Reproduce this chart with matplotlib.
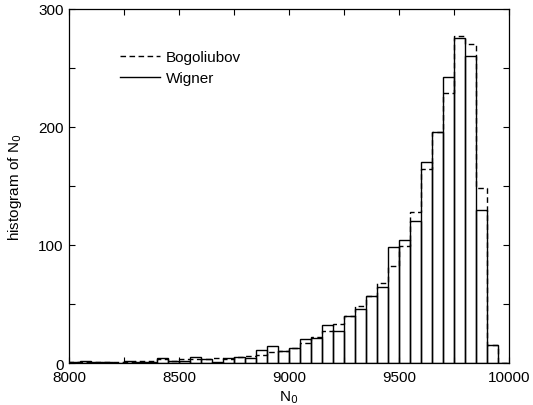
import matplotlib
matplotlib.use("Agg")
import matplotlib.pyplot as plt
import numpy as np
from matplotlib.ticker import MultipleLocator

plt.rcParams['font.family'] = ['Liberation Sans', 'DejaVu Sans']

bin_width = 50
bin_left = [8000 + 50 * i for i in range(40)]

wigner = [1, 2, 1, 1, 0, 2, 1, 1, 4, 2, 2, 5, 3, 1, 4, 5, 4, 11, 14, 10,
          13, 20, 21, 32, 27, 40, 46, 57, 64, 98, 104, 120, 170, 196, 242, 275, 260, 130, 15, 0]
bogoliubov = [1, 1, 1, 1, 1, 1, 2, 2, 3, 2, 3, 3, 3, 4, 3, 5, 6, 7, 9, 10,
              13, 17, 22, 27, 33, 40, 48, 57, 68, 82, 99, 128, 164, 196, 229, 277, 270, 148, 15, 0]

xticks = [8000, 8500, 9000, 9500, 10000]
yticks = [0, 100, 200, 300]

fig = plt.figure(figsize=(5.33, 4.06), dpi=100)
ax = fig.add_axes([0.1295, 0.1034, 0.8255, 0.8726])

ax.bar(bin_left, wigner, width=bin_width, align='edge', fill=False,
       edgecolor='black', linewidth=1.0, zorder=2)
edges = bin_left + [bin_left[-1] + bin_width]
ax.stairs(bogoliubov, edges, color='black', linestyle=(0, (4, 2.5)),
          linewidth=1.0, zorder=3)

# legend proxies
ax.plot([], [], color='black', linestyle=(0, (4, 2.5)), linewidth=1.0, label='Bogoliubov')
ax.plot([], [], color='black', linestyle='-', linewidth=1.0, label='Wigner')
ax.legend(loc='upper left', bbox_to_anchor=(0.103, 0.9), frameon=False,
          fontsize=11, handlelength=2.6, handletextpad=0.35, labelspacing=0.45,
          borderaxespad=0)

ax.set_xlim(8000, 10000)
ax.set_ylim(0, 300)
ax.set_xticks(xticks)
ax.set_yticks(yticks)
ax.xaxis.set_minor_locator(MultipleLocator(250))
ax.yaxis.set_minor_locator(MultipleLocator(50))
ax.tick_params(which='both', direction='in', top=True, right=True, length=4,
               width=0.8, labelsize=11)
ax.tick_params(axis='x', pad=5)
ax.tick_params(axis='y', pad=4)
for s in ax.spines.values():
    s.set_linewidth(0.9)

ax.set_xlabel('N$_0$', fontsize=11, labelpad=3)
ax.set_ylabel('histogram of N$_0$', fontsize=11, labelpad=10)

fig.savefig('out.png', dpi=100)
